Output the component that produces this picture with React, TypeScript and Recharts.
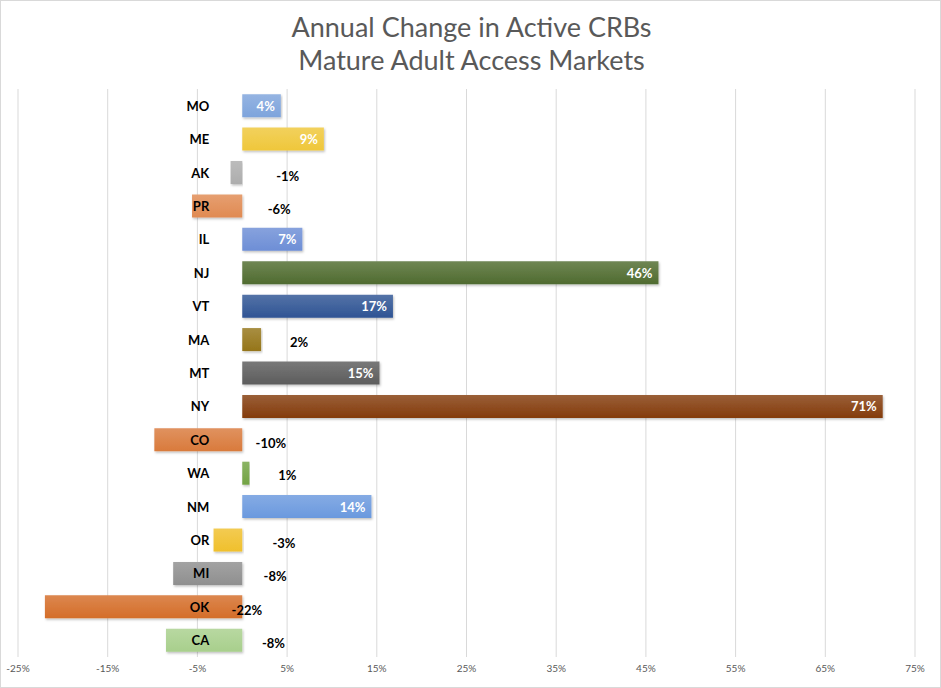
import React from 'react';
import { BarChart, Bar, XAxis, YAxis, CartesianGrid, Cell, LabelList } from 'recharts';

const states = ['MO', 'ME', 'AK', 'PR', 'IL', 'NJ', 'VT', 'MA', 'MT', 'NY', 'CO', 'WA', 'NM', 'OR', 'MI', 'OK', 'CA'];
const changes = [4.3, 9.1, -1.3, -5.6, 6.7, 46.4, 16.8, 2.1, 15.3, 71.4, -9.8, 0.8, 14.4, -3.2, -7.7, -22.0, -8.5];
const colors = ['#7ea4dc', '#efc73a', '#adadad', '#e08a52', '#6d8ed6', '#4f6b2f', '#2f5494', '#957519', '#5c5c5c', '#843c0c', '#d97a3c', '#72a343', '#6a99de', '#f0c02c', '#8f8f8f', '#d46d28', '#a8cf8c'];
const xTicks = [-25, -15, -5, 5, 15, 25, 35, 45, 55, 65, 75];
const titleLines = ['Annual Change in Active CRBs', 'Mature Adult Access Markets'];

const data = states.map((s, i) => ({ state: s, change: changes[i] }));

const FONT = 'Lato, "Open Sans", sans-serif';

function lighten(hex: string, amt: number) {
  const n = parseInt(hex.slice(1), 16);
  const r = (n >> 16) & 255, g = (n >> 8) & 255, b = n & 255;
  const f = (c: number) => Math.round(c + (255 - c) * amt);
  return `rgb(${f(r)},${f(g)},${f(b)})`;
}

const renderValueLabel = (props: any) => {
  const { x, y, width, height, value } = props;
  const left = Math.min(x, x + width);
  const right = Math.max(x, x + width);
  const len = right - left;
  const cy = y + height / 2;
  const text = `${Math.round(value)}%`;
  if (value < 0) {
    return (
      <text x={right + 48 - 0.22 * len} y={cy + 3} textAnchor="middle" dominantBaseline="central"
        fontFamily={FONT} fontWeight={700} fontSize={13} fill="#000">{text}</text>
    );
  }
  if (value < 3) {
    return (
      <text x={right + 38} y={cy + 2} textAnchor="middle" dominantBaseline="central"
        fontFamily={FONT} fontWeight={700} fontSize={13} fill="#000">{text}</text>
    );
  }
  return (
    <text x={right - 6} y={cy} textAnchor="end" dominantBaseline="central"
      fontFamily={FONT} fontWeight={700} fontSize={13} fill="#fff">{text}</text>
  );
};

const renderStateLabel = (props: any) => {
  const { x, y, width, height, value, index } = props;
  const left = Math.min(x, x + width);
  const right = Math.max(x, x + width);
  const zero = changes[index] < 0 ? right : left;
  return (
    <text x={zero - 33} y={y + height / 2} textAnchor="end" dominantBaseline="central"
      fontFamily={FONT} fontWeight={700} fontSize={13} fill="#000">{value}</text>
  );
};

export default function App() {
  return (
    <div style={{ position: 'absolute', left: 0, top: 0, width: 941, height: 688, background: '#fff', boxSizing: 'border-box', border: '1px solid #d9d9d9', fontFamily: FONT }}>
      <div style={{ position: 'absolute', left: 0, top: 9, width: 941, textAlign: 'center', color: '#595959', fontSize: 27, lineHeight: '33px', fontFamily: FONT }}>
        {titleLines.map((t) => <div key={t}>{t}</div>)}
      </div>
      <div style={{ position: 'absolute', left: -1, top: -1 }}>
        <BarChart width={941} height={688} data={data} layout="vertical"
          margin={{ top: 89, right: 26, bottom: 6, left: 18 }} barCategoryGap="15.5%">
          <defs>
            {colors.map((c, i) => (
              <linearGradient key={i} id={`g${i}`} x1="0" y1="0" x2="0" y2="1">
                <stop offset="0%" stopColor={lighten(c, 0.18)} />
                <stop offset="100%" stopColor={c} />
              </linearGradient>
            ))}
            <filter id="sh" x="-5%" y="-20%" width="110%" height="150%">
              <feDropShadow dx="1" dy="1.5" stdDeviation="1" floodColor="#000" floodOpacity="0.25" />
            </filter>
          </defs>
          <CartesianGrid horizontal={false} stroke="#d9d9d9" strokeWidth={1} />
          <XAxis type="number" domain={[-25, 75]} ticks={xTicks} axisLine={false} tickLine={false}
            tickFormatter={(v: number) => `${v}%`} height={25}
            tick={{ fill: '#595959', fontSize: 10, fontFamily: FONT }} interval={0} allowDataOverflow />
          <YAxis type="category" dataKey="state" hide />
          <Bar dataKey="change" isAnimationActive={false} filter="url(#sh)">
            {data.map((d, i) => <Cell key={d.state} fill={`url(#g${i})`} />)}
            <LabelList dataKey="state" content={renderStateLabel} />
            <LabelList dataKey="change" content={renderValueLabel} />
          </Bar>
        </BarChart>
      </div>
    </div>
  );
}
